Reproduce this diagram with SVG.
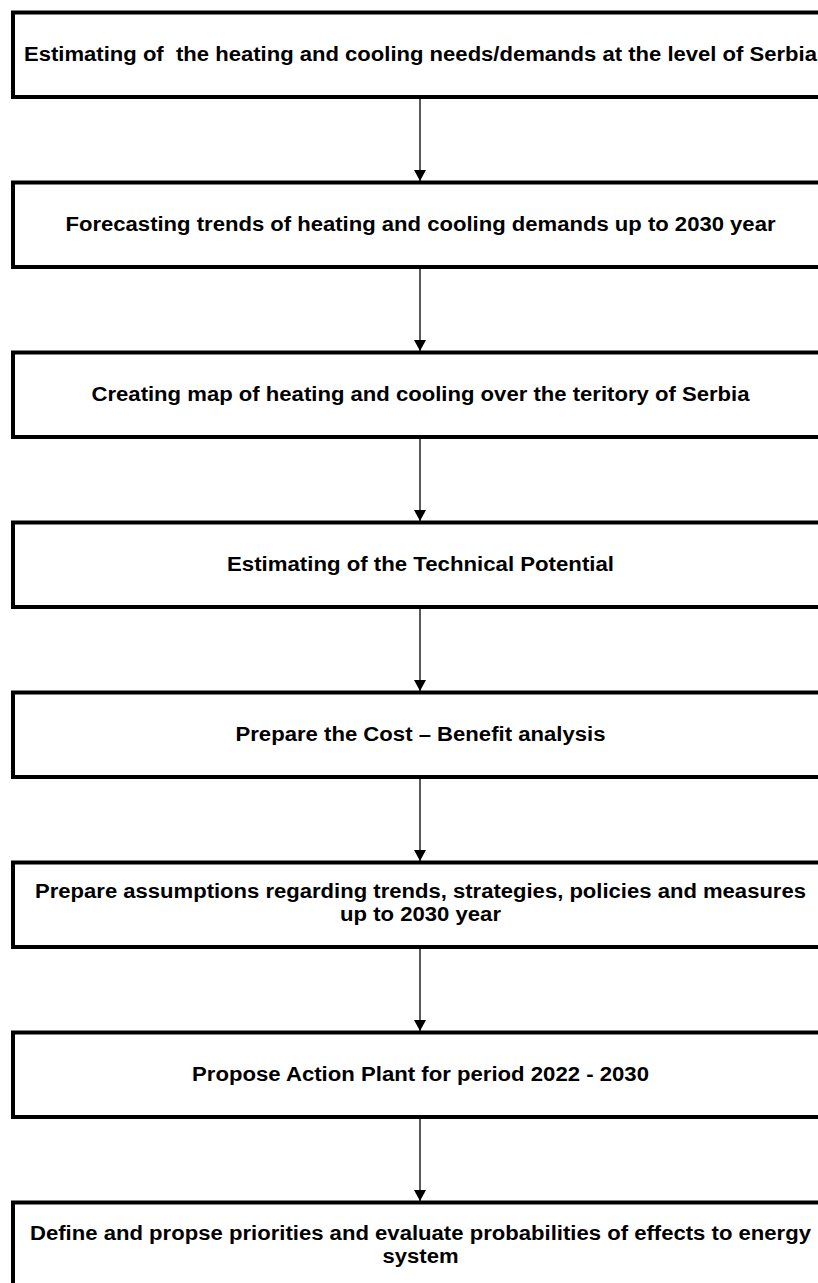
<svg xmlns="http://www.w3.org/2000/svg" width="818" height="1283" viewBox="0 0 818 1283">
  <style>
    .box { fill: #ffffff; stroke: #000000; stroke-width: 4; }
    .lbl { font-family: "Liberation Sans", Arial, sans-serif; font-weight: bold; font-size: 19.5px; fill: #000000; text-anchor: middle; }
    .conn { stroke: #000000; stroke-width: 1.3; fill: none; marker-end: url(#arrow); }
  </style>
  <defs>
    <marker id="arrow" markerUnits="userSpaceOnUse" viewBox="0 0 11 12" refX="11" refY="6" markerWidth="11" markerHeight="12" orient="auto">
      <path d="M0,0 L11,6 L0,12 z" fill="#000000"/>
    </marker>
  </defs>
  <rect width="818" height="1283" fill="#ffffff"/>

  <g id="connectors">
    <line class="conn" x1="420" y1="99" x2="420" y2="181"/>
    <line class="conn" x1="420" y1="269" x2="420" y2="351"/>
    <line class="conn" x1="420" y1="439" x2="420" y2="521"/>
    <line class="conn" x1="420" y1="609" x2="420" y2="691"/>
    <line class="conn" x1="420" y1="779" x2="420" y2="861"/>
    <line class="conn" x1="420" y1="949" x2="420" y2="1031"/>
    <line class="conn" x1="420" y1="1119" x2="420" y2="1201"/>
  </g>

  <g id="node1">
    <rect class="box" x="13" y="12.5" width="815" height="84.5"/>
    <text class="lbl" x="420.5" y="61" textLength="793" lengthAdjust="spacingAndGlyphs" xml:space="preserve">Estimating of  the heating and cooling needs/demands at the level of Serbia</text>
  </g>
  <g id="node2">
    <rect class="box" x="13" y="182.5" width="815" height="84.5"/>
    <text class="lbl" x="420.5" y="231" textLength="710" lengthAdjust="spacingAndGlyphs">Forecasting trends of heating and cooling demands up to 2030 year</text>
  </g>
  <g id="node3">
    <rect class="box" x="13" y="352.5" width="815" height="84.5"/>
    <text class="lbl" x="420.5" y="401" textLength="658" lengthAdjust="spacingAndGlyphs">Creating map of heating and cooling over the teritory of Serbia</text>
  </g>
  <g id="node4">
    <rect class="box" x="13" y="522.5" width="815" height="84.5"/>
    <text class="lbl" x="420.5" y="571" textLength="387" lengthAdjust="spacingAndGlyphs">Estimating of the Technical Potential</text>
  </g>
  <g id="node5">
    <rect class="box" x="13" y="692.5" width="815" height="84.5"/>
    <text class="lbl" x="420.5" y="741" textLength="370" lengthAdjust="spacingAndGlyphs">Prepare the Cost – Benefit analysis</text>
  </g>
  <g id="node6">
    <rect class="box" x="13" y="862.5" width="815" height="84.5"/>
    <text class="lbl" x="420.5" y="898" textLength="771" lengthAdjust="spacingAndGlyphs">Prepare assumptions regarding trends, strategies, policies and measures</text>
    <text class="lbl" x="420.5" y="921" textLength="161" lengthAdjust="spacingAndGlyphs">up to 2030 year</text>
  </g>
  <g id="node7">
    <rect class="box" x="13" y="1032.5" width="815" height="84.5"/>
    <text class="lbl" x="420.5" y="1081" textLength="457" lengthAdjust="spacingAndGlyphs">Propose Action Plant for period 2022 - 2030</text>
  </g>
  <g id="node8">
    <rect class="box" x="13" y="1202.5" width="815" height="84.5"/>
    <text class="lbl" x="420.5" y="1240" textLength="781" lengthAdjust="spacingAndGlyphs">Define and propse priorities and evaluate probabilities of effects to energy</text>
    <text class="lbl" x="420.5" y="1263" textLength="76" lengthAdjust="spacingAndGlyphs">system</text>
  </g>
</svg>
